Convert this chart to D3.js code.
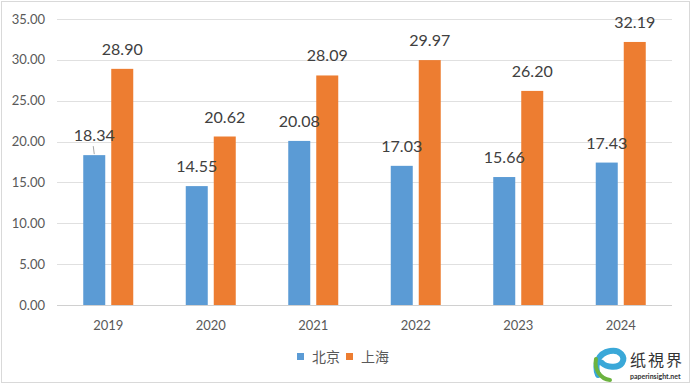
<!DOCTYPE html>
<html>
<head>
<meta charset="utf-8">
<script src="https://cdn.jsdelivr.net/npm/d3@7"></script>
<style>
  body { margin: 0; background: #fff; }
  svg { display: block; font-family: Lato, "Noto Sans CJK SC", sans-serif; }
</style>
</head>
<body>
<svg id="chart" width="691" height="384"></svg>
<script>
const years = ["2019", "2020", "2021", "2022", "2023", "2024"];
const seriesNames = ["北京", "上海"];
const beijing = [18.34, 14.55, 20.08, 17.03, 15.66, 17.43];
const shanghai = [28.90, 20.62, 28.09, 29.97, 26.20, 32.19];
const yTicks = [0, 5, 10, 15, 20, 25, 30, 35];
const colors = ["#5b9bd5", "#ed7d31"];

const svg = d3.select("#chart");
const width = +svg.attr("width");
const height = +svg.attr("height");

// chart border
svg.append("rect")
  .attr("x", 1.5)
  .attr("y", 1.5)
  .attr("width", width - 3)
  .attr("height", height - 3)
  .attr("fill", "white")
  .attr("stroke", "#d9d9d9");

const plot = { left: 57, right: 672, top: 19, bottom: 305 };

const y = d3.scaleLinear()
  .domain([0, 35])
  .range([plot.bottom, plot.top]);

const x0 = d3.scaleBand()
  .domain(years)
  .range([plot.left, plot.right])
  .padding(0);

const groupWidth = 50;
const x1 = d3.scaleBand()
  .domain(seriesNames)
  .range([x0.bandwidth() / 2 - groupWidth / 2, x0.bandwidth() / 2 + groupWidth / 2])
  .paddingInner(6 / 28);

// gridlines
svg.append("g")
  .selectAll("line")
  .data(yTicks)
  .enter()
  .append("line")
  .attr("x1", plot.left)
  .attr("x2", plot.right)
  .attr("y1", d => Math.round(y(d)) + 0.5)
  .attr("y2", d => Math.round(y(d)) + 0.5)
  .attr("stroke", d => d === 0 ? "#d0d0d0" : "#e0e0e0")
  .attr("stroke-width", 1);

// y tick labels
svg.append("g")
  .selectAll("text")
  .data(yTicks)
  .enter()
  .append("text")
  .attr("x", 45)
  .attr("y", d => y(d))
  .attr("dy", "0.35em")
  .attr("text-anchor", "end")
  .attr("font-size", "13px")
  .attr("fill", "#595959")
  .text(d => d.toFixed(2));

// x tick labels
svg.append("g")
  .selectAll("text")
  .data(years)
  .enter()
  .append("text")
  .attr("x", d => x0(d) + x0.bandwidth() / 2)
  .attr("y", 325)
  .attr("dy", "0.35em")
  .attr("text-anchor", "middle")
  .attr("font-size", "13px")
  .attr("fill", "#595959")
  .text(d => d);

const rows = years.map((yr, i) => ({
  year: yr,
  values: [
    { name: seriesNames[0], value: beijing[i], color: colors[0] },
    { name: seriesNames[1], value: shanghai[i], color: colors[1] }
  ]
}));

const groups = svg.append("g")
  .selectAll("g")
  .data(rows)
  .enter()
  .append("g")
  .attr("transform", d => "translate(" + x0(d.year) + ",0)");

groups.selectAll("rect")
  .data(d => d.values)
  .enter()
  .append("rect")
  .attr("x", d => x1(d.name))
  .attr("y", d => y(d.value))
  .attr("width", x1.bandwidth())
  .attr("height", d => y(0) - y(d.value))
  .attr("fill", d => d.color);

groups.selectAll("text")
  .data(d => d.values)
  .enter()
  .append("text")
  .attr("x", d => x1(d.name) + x1.bandwidth() / 2)
  .attr("y", d => y(d.value) - 14)
  .attr("text-anchor", "middle")
  .attr("font-size", "16px")
  .attr("fill", "#404040")
  .text(d => d.value.toFixed(2));

// leader line for first label
svg.append("line")
  .attr("x1", x0(years[0]) + x1(seriesNames[0]) + x1.bandwidth() / 2 - 1)
  .attr("y1", y(beijing[0]) - 9)
  .attr("x2", x0(years[0]) + x1(seriesNames[0]) + x1.bandwidth() / 2)
  .attr("y2", y(beijing[0]) - 1)
  .attr("stroke", "#a6a6a6")
  .attr("stroke-width", 1);

// legend
const legend = svg.append("g")
  .selectAll("g")
  .data(seriesNames)
  .enter()
  .append("g")
  .attr("transform", (d, i) => "translate(" + (297 + i * 49) + ",353)");

legend.append("rect")
  .attr("width", 7)
  .attr("height", 7)
  .attr("fill", (d, i) => colors[i]);

legend.append("text")
  .attr("x", 15)
  .attr("y", 4)
  .attr("dy", "0.35em")
  .attr("font-size", "14px")
  .attr("fill", "#595959")
  .text(d => d);

// watermark logo
const logo = svg.append("g").attr("transform", "translate(592,345)");

logo.append("path")
  .attr("d", "M6,30 C2,20 6,8 18,6 C28,4 34,12 30,18 C26,24 14,22 10,18")
  .attr("fill", "none")
  .attr("stroke", "#3aa8d8")
  .attr("stroke-width", 6)
  .attr("stroke-linecap", "round");

logo.append("path")
  .attr("d", "M4,14 C2,24 8,34 18,35")
  .attr("fill", "none")
  .attr("stroke", "#6cb33f")
  .attr("stroke-width", 4)
  .attr("stroke-linecap", "round");

logo.append("text")
  .attr("x", 38)
  .attr("y", 21)
  .attr("font-size", "16px")
  .attr("fill", "#333")
  .attr("letter-spacing", "2px")
  .text("纸視界");

logo.append("text")
  .attr("x", 38)
  .attr("y", 34)
  .attr("font-size", "7px")
  .attr("font-weight", "bold")
  .attr("fill", "#333")
  .text("paperinsight.net");
</script>
</body>
</html>
